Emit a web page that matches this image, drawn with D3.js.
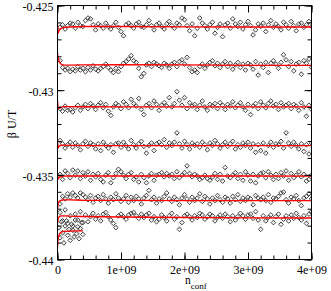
<!DOCTYPE html>
<html>
<head>
<meta charset="utf-8">
<title>beta U/T vs n_conf</title>
<script src="https://d3js.org/d3.v7.min.js"></script>
<style>
  body { margin: 0; background: #fff; }
  svg text { font-family: "Liberation Serif", "DejaVu Serif", serif; fill: #000; }
</style>
</head>
<body>
<div id="chart"></div>
<script>
// spacing of the stored configurations along n_conf
const nconfStep = 0.04e9;
const shortStep = 0.02e9;

// measured beta U/T, one list per run
const serieA = [-0.42629,-0.42614,-0.42639,-0.42619,-0.42604,-0.42609,-0.42634,-0.42599,-0.42619,-0.42624,
  -0.42589,-0.42574,-0.42579,-0.42614,-0.42644,-0.42609,-0.42619,-0.42634,-0.42604,-0.42624,
  -0.42639,-0.42619,-0.42599,-0.42629,-0.42654,-0.42679,-0.42614,-0.42604,-0.42619,-0.42634,
  -0.42609,-0.42599,-0.42624,-0.42629,-0.42614,-0.42589,-0.42619,-0.42644,-0.42614,-0.42604,
  -0.42624,-0.42639,-0.42609,-0.42594,-0.42619,-0.42634,-0.42604,-0.42614,-0.42574,-0.42584,
  -0.42619,-0.42649,-0.42609,-0.42679,-0.42634,-0.42574,-0.42604,-0.42619,-0.42639,-0.42614,
  -0.42599,-0.42664,-0.42629,-0.42609,-0.42684,-0.42614,-0.42604,-0.42634,-0.42579,-0.42609,
  -0.42624,-0.42599,-0.42639,-0.42614,-0.42594,-0.42619,-0.42674,-0.42644,-0.42609,-0.42624,
  -0.42604,-0.42654,-0.42614,-0.42589,-0.42629,-0.42609,-0.42624,-0.42644,-0.42599,-0.42614,
  -0.42634,-0.42594,-0.42619,-0.42649,-0.42609,-0.42604,-0.42629,-0.42614,-0.42594,-0.42624];

const serieB = [-0.42826,-0.42866,-0.42881,-0.42871,-0.42891,-0.42876,-0.42886,-0.42861,-0.42881,-0.42871,
  -0.42891,-0.42866,-0.42881,-0.42856,-0.42876,-0.42886,-0.42871,-0.42861,-0.42846,-0.42866,
  -0.42881,-0.42896,-0.42871,-0.42891,-0.42861,-0.42841,-0.42831,-0.42816,-0.42796,-0.42826,
  -0.42836,-0.42871,-0.42921,-0.42901,-0.42851,-0.42841,-0.42861,-0.42836,-0.42846,-0.42856,
  -0.42866,-0.42841,-0.42851,-0.42871,-0.42846,-0.42836,-0.42861,-0.42831,-0.42821,-0.42846,
  -0.42806,-0.42866,-0.42891,-0.42881,-0.42896,-0.42861,-0.42846,-0.42871,-0.42851,-0.42836,
  -0.42826,-0.42856,-0.42841,-0.42866,-0.42846,-0.42831,-0.42861,-0.42841,-0.42876,-0.42851,
  -0.42836,-0.42866,-0.42846,-0.42881,-0.42841,-0.42851,-0.42876,-0.42831,-0.42911,-0.42846,
  -0.42866,-0.42836,-0.42896,-0.42841,-0.42826,-0.42846,-0.42871,-0.42836,-0.42791,-0.42821,
  -0.42861,-0.42831,-0.42886,-0.42846,-0.42836,-0.42906,-0.42826,-0.42841,-0.42816,-0.42866];

const serieC = [-0.43109,-0.43124,-0.43094,-0.43119,-0.43114,-0.43129,-0.43104,-0.43089,-0.43119,-0.43099,
  -0.43084,-0.43109,-0.43079,-0.43094,-0.43114,-0.43089,-0.43074,-0.43104,-0.43084,-0.43124,
  -0.43149,-0.43099,-0.43079,-0.43089,-0.43109,-0.43069,-0.43084,-0.43104,-0.43054,-0.43079,
  -0.43094,-0.43049,-0.43114,-0.43144,-0.43089,-0.43079,-0.43104,-0.43064,-0.43084,-0.43119,
  -0.43089,-0.43074,-0.43094,-0.43044,-0.43099,-0.43079,-0.43009,-0.43059,-0.43089,-0.43044,
  -0.43109,-0.43074,-0.43094,-0.43084,-0.43114,-0.43089,-0.43064,-0.43099,-0.43119,-0.43084,
  -0.43094,-0.43079,-0.43109,-0.43074,-0.43089,-0.43114,-0.43084,-0.43094,-0.43069,-0.43104,
  -0.43089,-0.43074,-0.43099,-0.43119,-0.43084,-0.43144,-0.43094,-0.43079,-0.43109,-0.43069,
  -0.43089,-0.43104,-0.43079,-0.43064,-0.43094,-0.43084,-0.43114,-0.43074,-0.43099,-0.43089,
  -0.43079,-0.43109,-0.43084,-0.43094,-0.43119,-0.43074,-0.43099,-0.43154,-0.43089,-0.43114];

const serieD = [-0.43297,-0.43317,-0.43342,-0.43322,-0.43307,-0.43337,-0.43312,-0.43327,-0.43352,-0.43317,
  -0.43302,-0.43332,-0.43312,-0.43322,-0.43347,-0.43317,-0.43357,-0.43307,-0.43327,-0.43342,
  -0.43322,-0.43367,-0.43317,-0.43312,-0.43337,-0.43307,-0.43327,-0.43347,-0.43297,-0.43322,
  -0.43342,-0.43317,-0.43302,-0.43332,-0.43372,-0.43327,-0.43312,-0.43357,-0.43317,-0.43307,
  -0.43322,-0.43292,-0.43337,-0.43312,-0.43327,-0.43307,-0.43252,-0.43317,-0.43342,-0.43302,
  -0.43322,-0.43347,-0.43312,-0.43327,-0.43317,-0.43337,-0.43307,-0.43322,-0.43352,-0.43312,
  -0.43327,-0.43297,-0.43317,-0.43342,-0.43322,-0.43307,-0.43332,-0.43317,-0.43302,-0.43347,
  -0.43322,-0.43337,-0.43312,-0.43327,-0.43307,-0.43342,-0.43317,-0.43367,-0.43322,-0.43357,
  -0.43312,-0.43372,-0.43327,-0.43307,-0.43337,-0.43317,-0.43322,-0.43302,-0.43342,-0.43252,
  -0.43312,-0.43332,-0.43307,-0.43327,-0.43347,-0.43317,-0.43362,-0.43322,-0.43377,-0.43312];

const serieE = [-0.43497,-0.43527,-0.43477,-0.43492,-0.43517,-0.43472,-0.43502,-0.43477,-0.43522,-0.43487,
  -0.43507,-0.43482,-0.43532,-0.43497,-0.43512,-0.43492,-0.43527,-0.43542,-0.43502,-0.43487,
  -0.43547,-0.43517,-0.43492,-0.43467,-0.43482,-0.43502,-0.43522,-0.43497,-0.43487,-0.43527,
  -0.43512,-0.43542,-0.43497,-0.43517,-0.43547,-0.43507,-0.43492,-0.43532,-0.43502,-0.43497,
  -0.43487,-0.43512,-0.43492,-0.43507,-0.43497,-0.43522,-0.43482,-0.43517,-0.43502,-0.43487,
  -0.43447,-0.43492,-0.43512,-0.43497,-0.43507,-0.43527,-0.43517,-0.43502,-0.43522,-0.43532,
  -0.43512,-0.43492,-0.43527,-0.43497,-0.43537,-0.43457,-0.43507,-0.43517,-0.43502,-0.43487,
  -0.43522,-0.43497,-0.43532,-0.43482,-0.43502,-0.43537,-0.43497,-0.43547,-0.43507,-0.43492,
  -0.43487,-0.43517,-0.43482,-0.43502,-0.43527,-0.43497,-0.43522,-0.43487,-0.43507,-0.43477,
  -0.43532,-0.43492,-0.43517,-0.43502,-0.43482,-0.43512,-0.43497,-0.43537,-0.43527,-0.43502];

const serieF = [-0.43672,-0.43627,-0.43642,-0.43612,-0.43632,-0.43607,-0.43622,-0.43637,-0.43607,-0.43617,
  -0.43632,-0.43647,-0.43622,-0.43662,-0.43637,-0.43627,-0.43652,-0.43617,-0.43642,-0.43667,
  -0.43632,-0.43647,-0.43612,-0.43637,-0.43657,-0.43642,-0.43622,-0.43662,-0.43632,-0.43652,
  -0.43627,-0.43642,-0.43672,-0.43637,-0.43622,-0.43592,-0.43647,-0.43632,-0.43667,-0.43642,
  -0.43652,-0.43627,-0.43607,-0.43642,-0.43657,-0.43632,-0.43647,-0.43677,-0.43637,-0.43617,
  -0.43642,-0.43662,-0.43632,-0.43652,-0.43637,-0.43612,-0.43657,-0.43627,-0.43642,-0.43672,
  -0.43637,-0.43652,-0.43622,-0.43647,-0.43662,-0.43632,-0.43642,-0.43667,-0.43627,-0.43647,
  -0.43617,-0.43657,-0.43637,-0.43652,-0.43632,-0.43642,-0.43677,-0.43622,-0.43637,-0.43647,
  -0.43632,-0.43652,-0.43617,-0.43662,-0.43637,-0.43642,-0.43627,-0.43607,-0.43602,-0.43647,
  -0.43667,-0.43632,-0.43642,-0.43622,-0.43652,-0.43682,-0.43637,-0.43627,-0.43612,-0.43642];

const serieG = [-0.43722,-0.43772,-0.43707,-0.43787,-0.43742,-0.43802,-0.43732,-0.43767,-0.43717,-0.43782,
  -0.43737,-0.43777,-0.43747,-0.43727,-0.43762,-0.43742,-0.43772,-0.43732,-0.43722,-0.43747,
  -0.43767,-0.43787,-0.43812,-0.43742,-0.43732,-0.43747,-0.43762,-0.43737,-0.43727,-0.43722,
  -0.43742,-0.43757,-0.43732,-0.43752,-0.43737,-0.43727,-0.43767,-0.43747,-0.43777,-0.43762,
  -0.43737,-0.43752,-0.43772,-0.43742,-0.43727,-0.43762,-0.43747,-0.43822,-0.43782,-0.43742,
  -0.43732,-0.43747,-0.43767,-0.43742,-0.43752,-0.43727,-0.43737,-0.43762,-0.43747,-0.43732,
  -0.43742,-0.43772,-0.43752,-0.43737,-0.43757,-0.43732,-0.43747,-0.43777,-0.43742,-0.43767,
  -0.43747,-0.43727,-0.43742,-0.43762,-0.43737,-0.43732,-0.43757,-0.43717,-0.43767,-0.43822,
  -0.43742,-0.43772,-0.43752,-0.43737,-0.43782,-0.43747,-0.43732,-0.43792,-0.43762,-0.43742,
  -0.43772,-0.43737,-0.43757,-0.43727,-0.43752,-0.43767,-0.43742,-0.43787,-0.43732,-0.43717];

// short run, only up to 0.4e9 configurations
const serieH = [-0.43812,-0.43872,-0.43777,-0.43842,-0.43902,-0.43802,-0.43772,-0.43857,-0.43822,-0.43887,
  -0.43792,-0.43827,-0.43867,-0.43767,-0.43847,-0.43807,-0.43877,-0.43817,-0.43782,-0.43852];

// running averages (red curves)
const redX = [0, 0.01e9, 0.03e9, 0.06e9, 0.1e9, 0.2e9, 0.4e9, 1e9, 2e9, 3e9, 4e9];
const redA = [-0.42605,-0.42665,-0.42645,-0.42634,-0.42629,-0.42627,-0.42624,-0.42624,-0.42626,-0.42627,-0.42627];
const redB = [-0.42780,-0.42810,-0.42835,-0.42848,-0.42852,-0.42852,-0.42851,-0.42850,-0.42851,-0.42853,-0.42853];
const redC = [-0.43060,-0.43110,-0.43106,-0.43100,-0.43097,-0.43097,-0.43098,-0.43099,-0.43099,-0.43099,-0.43099];
const redD = [-0.43295,-0.43340,-0.43330,-0.43325,-0.43325,-0.43326,-0.43327,-0.43327,-0.43328,-0.43328,-0.43328];
const redE = [-0.43490,-0.43525,-0.43515,-0.43510,-0.43508,-0.43507,-0.43507,-0.43507,-0.43507,-0.43507,-0.43508];
const redF = [-0.43710,-0.43665,-0.43655,-0.43650,-0.43648,-0.43648,-0.43650,-0.43651,-0.43652,-0.43652,-0.43652];
const redG = [-0.43790,-0.43760,-0.43745,-0.43742,-0.43742,-0.43744,-0.43746,-0.43749,-0.43752,-0.43754,-0.43755];
const redXshort = [0, 0.01e9, 0.03e9, 0.06e9, 0.1e9, 0.2e9, 0.3e9, 0.4e9];
const redH = [-0.43930,-0.43875,-0.43850,-0.43838,-0.43834,-0.43832,-0.43831,-0.43831];

const xTicks = [0, 1e9, 2e9, 3e9, 4e9];
const xTickLabels = ["0", "1e+09", "2e+09", "3e+09", "4e+09"];
const yTicks = [-0.44, -0.435, -0.43, -0.425];
const yTickLabels = ["-0.44", "-0.435", "-0.43", "-0.425"];

const W = 331, H = 291;
const margin = {top: 5.5, right: 19.5, bottom: 31.5, left: 57.5};
const w = W - margin.left - margin.right;
const h = H - margin.top - margin.bottom;
const serif = "Liberation Serif, DejaVu Serif, serif";

const svg = d3.select("#chart").append("svg")
    .attr("width", W).attr("height", H);

const g = svg.append("g")
    .attr("transform", "translate(" + margin.left + "," + margin.top + ")");

const x = d3.scaleLinear().domain([0, 4e9]).range([0, w]);
const y = d3.scaleLinear().domain([-0.44, -0.425]).range([h, 0]);

g.append("clipPath").attr("id", "plotclip")
  .append("rect").attr("width", w).attr("height", h);

const plot = g.append("g").attr("clip-path", "url(#plotclip)");

const runs = [
  {vals: serieA, step: nconfStep, rx: redX, ry: redA},
  {vals: serieB, step: nconfStep, rx: redX, ry: redB},
  {vals: serieC, step: nconfStep, rx: redX, ry: redC},
  {vals: serieD, step: nconfStep, rx: redX, ry: redD},
  {vals: serieE, step: nconfStep, rx: redX, ry: redE},
  {vals: serieF, step: nconfStep, rx: redX, ry: redF},
  {vals: serieG, step: nconfStep, rx: redX, ry: redG},
  {vals: serieH, step: shortStep, rx: redXshort, ry: redH}
];

const line = d3.line().x(d => x(d[0])).y(d => y(d[1]));

runs.forEach(function(r) {
  const pts = r.vals.map((v, i) => [(i + 1) * r.step, v]);
  // dotted connection between successive measurements
  plot.append("path")
      .datum(pts)
      .attr("d", line)
      .attr("fill", "none")
      .attr("stroke", "#b4b4b4")
      .attr("stroke-width", 0.9)
      .attr("stroke-dasharray", "1,1.5");
  plot.selectAll(null)
      .data(pts)
      .enter()
      .append("path")
      .attr("d", d => {
        const cx = x(d[0]), cy = y(d[1]), s = 2.3;
        return "M" + cx + "," + (cy - s) + "L" + (cx + s) + "," + cy +
               "L" + cx + "," + (cy + s) + "L" + (cx - s) + "," + cy + "Z";
      })
      .attr("fill", "none")
      .attr("stroke", "#2a2a2a")
      .attr("stroke-width", 0.9);
});

runs.forEach(function(r) {
  plot.append("path")
      .datum(r.rx.map((v, i) => [v, r.ry[i]]))
      .attr("d", line)
      .attr("fill", "none")
      .attr("stroke", "#ff0000")
      .attr("stroke-width", 1.3);
});

// axes: ticks pointing inward on all four sides
function styleAxis(sel) {
  sel.attr("font-family", serif);
  sel.select(".domain").remove();
  sel.selectAll("line").attr("stroke", "#000");
  sel.selectAll("text").attr("font-size", "12px");
}

const xMinor = x.ticks(20);
const yMinor = y.ticks(15);

g.append("g").attr("transform", "translate(0," + h + ")")
  .call(d3.axisBottom(x).tickValues(xMinor).tickSize(-4).tickFormat(""))
  .call(styleAxis);
g.append("g").attr("transform", "translate(0," + h + ")")
  .call(d3.axisBottom(x).tickValues(xTicks).tickSize(-7).tickPadding(5.5)
        .tickFormat((d, i) => xTickLabels[i]))
  .call(styleAxis);
g.append("g")
  .call(d3.axisTop(x).tickValues(xMinor).tickSize(-4).tickFormat(""))
  .call(styleAxis);
g.append("g")
  .call(d3.axisTop(x).tickValues(xTicks).tickSize(-7).tickFormat(""))
  .call(styleAxis);

g.append("g")
  .call(d3.axisLeft(y).tickValues(yMinor).tickSize(-4).tickFormat(""))
  .call(styleAxis);
g.append("g")
  .call(d3.axisLeft(y).tickValues(yTicks).tickSize(-7).tickPadding(4)
        .tickFormat((d, i) => yTickLabels[i]))
  .call(styleAxis)
  .selectAll("text").attr("dy", "0.45em");
g.append("g").attr("transform", "translate(" + w + ",0)")
  .call(d3.axisRight(y).tickValues(yMinor).tickSize(-4).tickFormat(""))
  .call(styleAxis);
g.append("g").attr("transform", "translate(" + w + ",0)")
  .call(d3.axisRight(y).tickValues(yTicks).tickSize(-7).tickFormat(""))
  .call(styleAxis);

g.append("rect")
  .attr("width", w).attr("height", h)
  .attr("fill", "none").attr("stroke", "#000").attr("stroke-width", 1);

// axis titles
svg.append("text")
  .attr("transform", "translate(16,124) rotate(-90)")
  .attr("text-anchor", "middle")
  .attr("font-family", serif)
  .attr("font-size", "12px")
  .text("β U/T");

const xt = svg.append("text")
  .attr("x", 185).attr("y", 284)
  .attr("font-family", serif)
  .attr("font-size", "11.5px");
xt.append("tspan").text("n");
xt.append("tspan").attr("dy", 4.5).attr("font-size", "9px").text("conf");
</script>
</body>
</html>
